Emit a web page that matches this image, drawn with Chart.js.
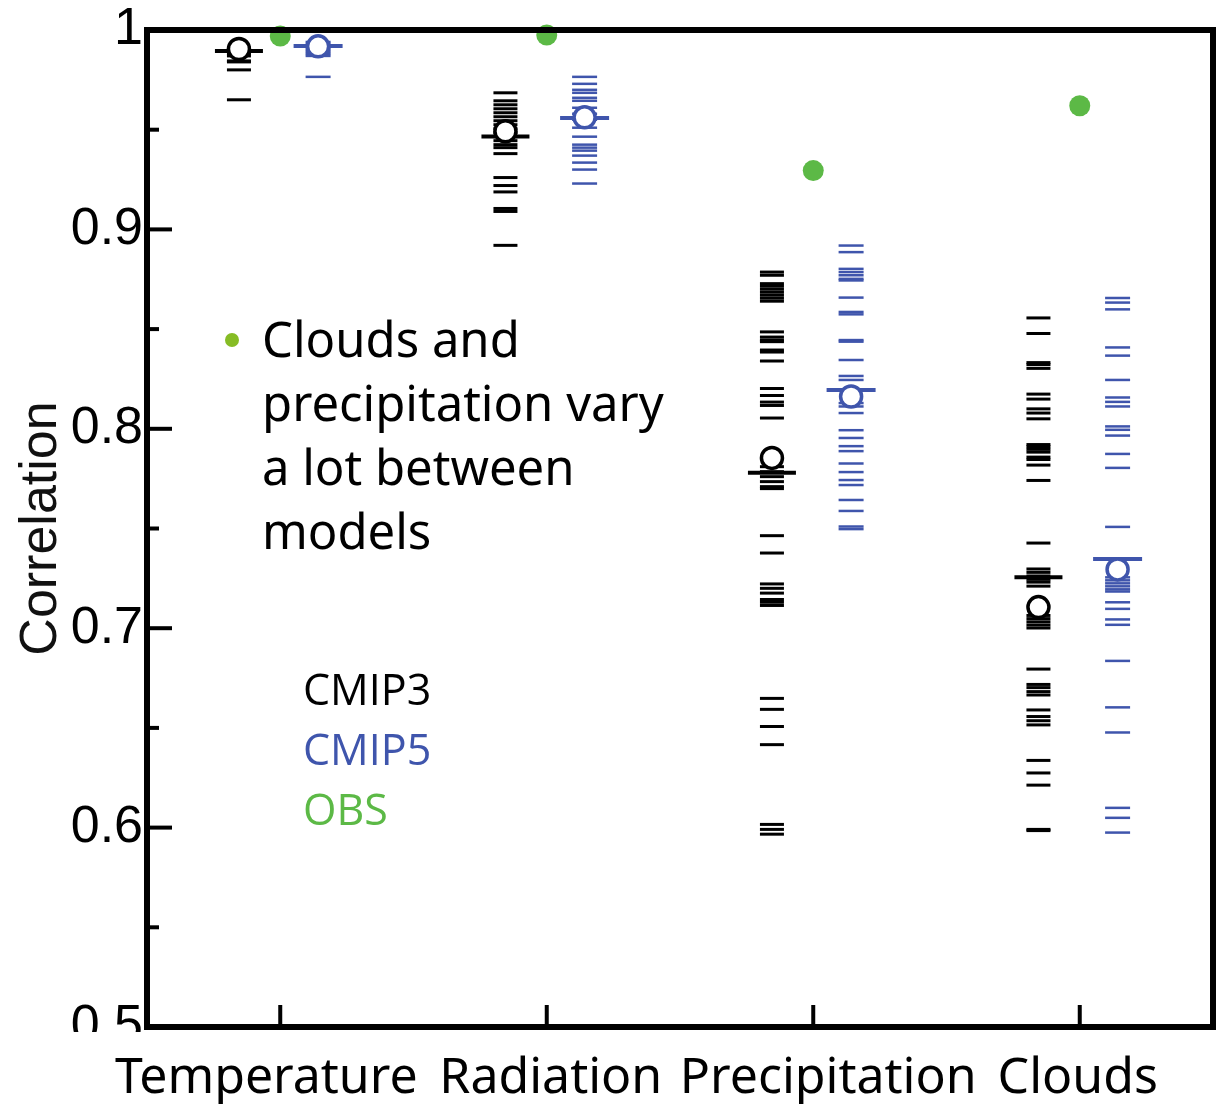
<!DOCTYPE html>
<html>
<head>
<meta charset="utf-8">
<title>Correlation by model generation</title>
<script src="https://cdn.jsdelivr.net/npm/chart.js@4.4.1/dist/chart.umd.min.js"></script>
<style>
    html, body { margin: 0; padding: 0; background: #fff; }
    #wrap { width: 1222px; height: 1104px; }
</style>
</head>
<body>
<div id="wrap"><canvas id="corrChart" width="1222" height="1104"></canvas></div>
<script>
const categories = ['Temperature', 'Radiation', 'Precipitation', 'Clouds'];

// individual model correlations, one short dash each
const cmip3Temp = [0.991, 0.990, 0.9895, 0.989, 0.988, 0.987, 0.9845, 0.984, 0.980, 0.965];
const cmip5Temp = [0.994, 0.993, 0.992, 0.991, 0.990, 0.989, 0.988, 0.987, 0.9765];

const cmip3Rad = [0.9685, 0.9645, 0.9625, 0.9605, 0.9585, 0.9565, 0.9545, 0.9525, 0.9505, 0.9485,
    0.9465, 0.9445, 0.9425, 0.941, 0.938, 0.926, 0.922, 0.9188, 0.9105, 0.909, 0.892];
const cmip5Rad = [0.9765, 0.973, 0.970, 0.9685, 0.966, 0.9645, 0.961, 0.958, 0.955, 0.951,
    0.9465, 0.9425, 0.941, 0.9395, 0.937, 0.9335, 0.930, 0.923];

const cmip3Precip = [0.8786, 0.877, 0.8728, 0.8715, 0.870, 0.8685, 0.867, 0.8655, 0.864,
    0.8486, 0.846, 0.8445, 0.8437, 0.8395, 0.8385, 0.834, 0.8202, 0.8167, 0.8134, 0.8117, 0.8054,
    0.781, 0.7785, 0.776, 0.7735, 0.771, 0.770, 0.7464, 0.7377, 0.7222, 0.720, 0.7176, 0.7144,
    0.713, 0.7114, 0.6648, 0.6593, 0.6507, 0.6416, 0.6016, 0.5991, 0.5967];
const cmip5Precip = [0.8919, 0.8886, 0.8802, 0.8786, 0.877, 0.8752, 0.8744, 0.8658, 0.8586,
    0.8574, 0.8445, 0.8437, 0.8345, 0.8265, 0.8245, 0.8129, 0.8112, 0.8079, 0.7993, 0.7954,
    0.7913, 0.7888, 0.7826, 0.7783, 0.7743, 0.7718, 0.7643, 0.7588, 0.751, 0.7497];

const cmip3Clouds = [0.8556, 0.8478, 0.8332, 0.8322, 0.8303, 0.8174, 0.8149, 0.810, 0.8079,
    0.805, 0.7921, 0.791, 0.7897, 0.7883, 0.7858, 0.7846, 0.7818, 0.7741, 0.7427, 0.7297,
    0.728, 0.7262, 0.7245, 0.7231, 0.7211, 0.7064, 0.7048, 0.7032, 0.7016, 0.7001, 0.6795,
    0.6718, 0.6702, 0.6682, 0.6665, 0.659, 0.6557, 0.6536, 0.6515, 0.6337, 0.6274, 0.6213,
    0.5991, 0.5985];
const cmip5Clouds = [0.8656, 0.8633, 0.8599, 0.8408, 0.8367, 0.8245, 0.8157, 0.8135, 0.8112,
    0.8012, 0.7995, 0.7966, 0.7874, 0.7804, 0.7508, 0.7255, 0.724, 0.7225, 0.721, 0.7195,
    0.7184, 0.713, 0.7097, 0.7044, 0.7017, 0.6836, 0.6603, 0.6477, 0.6099, 0.6049, 0.5975];

// ensemble summaries per category (circle = mean, long dash = median)
const cmip3Mean = [0.9905, 0.9492, 0.7854, 0.7106];
const cmip5Mean = [0.9918, 0.9562, 0.8162, 0.7295];
const cmip3Median = [0.9895, 0.9466, 0.778, 0.7255];
const cmip5Median = [0.992, 0.9559, 0.8195, 0.7347];

// observational estimate
const obsValues = [0.997, 0.9975, 0.9295, 0.962];

const yTickValues = [0.5, 0.6, 0.7, 0.8, 0.9, 1];

const black = '#000000';
const blue = '#3f55ac';
const green = '#5cb946';

const cmip3Shift = -0.155;
const cmip5Shift = 0.142;

function dashPoints(groups, shift) {
    const pts = [];
    groups.forEach((vals, i) => {
        vals.forEach(v => pts.push({ x: i + 1 + shift, y: v }));
    });
    return pts;
}

function summaryPoints(vals, shift) {
    return vals.map((v, i) => ({ x: i + 1 + shift, y: v }));
}

// frame, inward tick marks, category names and the text notes
const framePlugin = {
    id: 'framePlugin',
    afterDatasetsDraw(chart) {
        const { ctx, chartArea: a, scales: { x, y } } = chart;
        ctx.save();
        ctx.strokeStyle = '#000';
        ctx.lineWidth = 4;
        for (let i = 1; i < 10; i++) {
            const py = y.getPixelForValue(0.5 + i * 0.05);
            const len = i % 2 === 0 ? 25 : 12;
            ctx.beginPath();
            ctx.moveTo(a.left, py);
            ctx.lineTo(a.left + len, py);
            ctx.stroke();
        }
        categories.forEach((c, i) => {
            const px = x.getPixelForValue(i + 1);
            ctx.beginPath();
            ctx.moveTo(px, a.bottom);
            ctx.lineTo(px, a.bottom - 22);
            ctx.stroke();
        });
        ctx.lineWidth = 6;
        ctx.strokeRect(a.left, a.top, a.right - a.left, a.bottom - a.top);
        ctx.restore();
    },
    afterDraw(chart) {
        const { ctx, chartArea: a, scales: { x } } = chart;
        ctx.save();
        // the bottom tick label sits half under the category strip
        ctx.fillStyle = '#fff';
        ctx.fillRect(0, a.bottom + 5, a.left - 4, 22);

        const nudge = [-14, 4, 15, -2];
        ctx.fillStyle = '#000';
        ctx.font = '50px "Noto Sans"';
        ctx.textAlign = 'center';
        ctx.textBaseline = 'alphabetic';
        categories.forEach((c, i) => {
            ctx.fillText(c, x.getPixelForValue(i + 1) + nudge[i], 1093);
        });

        // bullet note
        ctx.fillStyle = '#86bc25';
        ctx.beginPath();
        ctx.arc(232, 340, 7, 0, Math.PI * 2);
        ctx.fill();
        ctx.fillStyle = '#000';
        ctx.font = '49px "Noto Sans"';
        ctx.textAlign = 'left';
        ['Clouds and', 'precipitation vary', 'a lot between', 'models'].forEach((line, i) => {
            ctx.fillText(line, 262, 357 + i * 64);
        });

        // series key
        ctx.font = '43px "Open Sans"';
        [['CMIP3', black], ['CMIP5', blue], ['OBS', green]].forEach(([t, col], i) => {
            ctx.fillStyle = col;
            ctx.fillText(t, 303, 705 + i * 60);
        });
        ctx.restore();
    }
};

const ctx = document.getElementById('corrChart').getContext('2d');
new Chart(ctx, {
    type: 'scatter',
    data: {
        datasets: [
            {
                label: 'CMIP3 mean',
                data: summaryPoints(cmip3Mean, cmip3Shift),
                pointStyle: 'circle', pointRadius: 10.5,
                backgroundColor: '#fff', borderColor: black, borderWidth: 3.5,
                order: 0, clip: false
            },
            {
                label: 'CMIP5 mean',
                data: summaryPoints(cmip5Mean, cmip5Shift),
                pointStyle: 'circle', pointRadius: 10.5,
                backgroundColor: '#fff', borderColor: blue, borderWidth: 3.5,
                order: 0, clip: false
            },
            {
                label: 'CMIP3 median',
                data: summaryPoints(cmip3Median, cmip3Shift),
                pointStyle: 'line', pointRadius: 24,
                borderColor: black, borderWidth: 4,
                order: 1, clip: false
            },
            {
                label: 'CMIP5 median',
                data: summaryPoints(cmip5Median, cmip5Shift),
                pointStyle: 'line', pointRadius: 24.5,
                borderColor: blue, borderWidth: 4,
                order: 1, clip: false
            },
            {
                label: 'CMIP3',
                data: dashPoints([cmip3Temp, cmip3Rad, cmip3Precip, cmip3Clouds], cmip3Shift),
                pointStyle: 'line', pointRadius: 12,
                borderColor: black, borderWidth: 3,
                order: 2, clip: false
            },
            {
                label: 'CMIP5',
                data: dashPoints([cmip5Temp, cmip5Rad, cmip5Precip, cmip5Clouds], cmip5Shift),
                pointStyle: 'line', pointRadius: 12.5,
                borderColor: blue, borderWidth: 2.5,
                order: 2, clip: false
            },
            {
                label: 'OBS',
                data: summaryPoints(obsValues, 0),
                pointStyle: 'circle', pointRadius: 10.5,
                backgroundColor: green, borderWidth: 0,
                order: 3, clip: false
            }
        ]
    },
    options: {
        responsive: false,
        animation: false,
        events: [],
        layout: { autoPadding: false, padding: { top: 27, right: 9, left: 0, bottom: 0 } },
        plugins: {
            legend: { display: false },
            tooltip: { enabled: false }
        },
        scales: {
            x: {
                type: 'linear',
                min: 0.5,
                max: 4.5,
                grid: { display: false, drawTicks: false },
                border: { display: false },
                ticks: { display: false },
                afterFit: scale => { scale.height = 77; }
            },
            y: {
                type: 'linear',
                min: 0.5,
                max: 1,
                grid: { display: false, drawTicks: false },
                border: { display: false },
                afterBuildTicks: scale => {
                    scale.ticks = yTickValues.map(v => ({ value: v }));
                },
                ticks: {
                    padding: 4,
                    color: '#000',
                    font: { family: '"Liberation Sans", Arial, sans-serif', size: 52, lineHeight: 1 },
                    callback: v => (Math.abs(v - 1) < 1e-9 ? '1' : v.toFixed(1))
                },
                title: {
                    display: true,
                    text: 'Correlation',
                    color: '#111',
                    font: { family: '"Liberation Sans", Arial, sans-serif', size: 52 },
                    padding: { top: 10, bottom: 0 }
                },
                afterFit: scale => { scale.width = 147; }
            }
        }
    },
    plugins: [framePlugin]
});
</script>
</body>
</html>
